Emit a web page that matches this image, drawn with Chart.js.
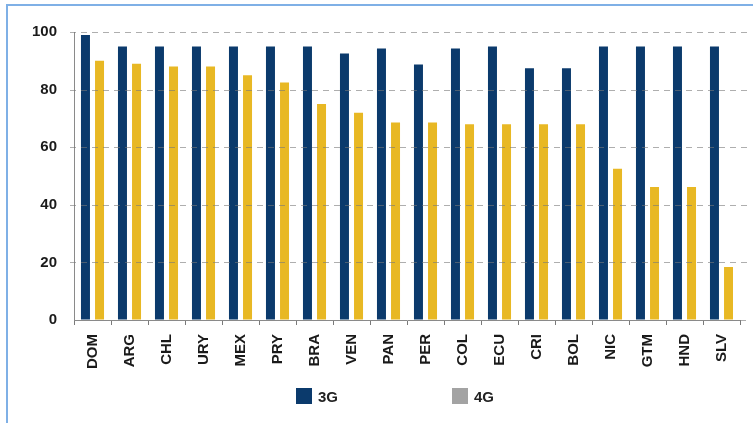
<!DOCTYPE html>
<html>
<head>
<meta charset="utf-8">
<script src="https://cdn.jsdelivr.net/npm/chart.js@4.4.1/dist/chart.umd.min.js"></script>
<style>
  html, body { margin: 0; padding: 0; background: #fff; }
  #wrap { position: relative; width: 753px; height: 423px; overflow: hidden; }
  #frame { position: absolute; left: 6px; top: 4px; width: 800px; height: 500px;
           border-left: 2px solid #7fb0e6; border-top: 2px solid #7fb0e6; }
  #chart { position: absolute; left: 0; top: 0; }
  .legend { position: absolute; top: 388px; font: bold 15px "Liberation Sans", Arial, sans-serif; color: #222; }
  .legend span { position: absolute; top: 0; white-space: nowrap; }
  .legend i { position: absolute; top: 0; width: 16px; height: 16px; }
</style>
</head>
<body>
<div id="wrap">
  <div id="frame"></div>
  <canvas id="chart" width="753" height="423"></canvas>
  <div class="legend" id="legend"></div>
</div>
<script>
// countries, in the order shown on the axis
const countries = ['DOM', 'ARG', 'CHL', 'URY', 'MEX', 'PRY', 'BRA', 'VEN', 'PAN', 'PER',
                   'COL', 'ECU', 'CRI', 'BOL', 'NIC', 'GTM', 'HND', 'SLV'];

// coverage, % of population
const cov3G = [99, 95, 95, 95, 95, 95, 95, 92.5, 94.3, 88.7, 94.3, 95, 87.4, 87.4, 95, 95, 95, 95];
const cov4G = [90, 89, 88, 88, 85, 82.5, 75, 72, 68.6, 68.6, 68, 68, 68, 68, 52.5, 46.2, 46.2, 18.4];

const yTicks = [0, 20, 40, 60, 80, 100];

// legend entries (the 4G swatch is grey in the legend)
const legendItems = [
  { label: '3G', color: '#0b3a6c', x: 296 },
  { label: '4G', color: '#a3a3a3', x: 452 }
];

const NAVY = '#0b3a6c';
const GOLD = '#e8b824';
const FONT = '"Liberation Sans", Arial, sans-serif';

// dashed guide lines drawn on top of the bars
const dashedGrid = {
  id: 'dashedGrid',
  afterDatasetsDraw(chart) {
    const { ctx, chartArea, scales } = chart;
    ctx.save();
    ctx.setLineDash([6, 5]);
    ctx.strokeStyle = 'rgba(120,120,120,0.6)';
    ctx.lineWidth = 1;
    yTicks.forEach(v => {
      const py = Math.round(scales.y.getPixelForValue(v)) + 0.5;
      ctx.beginPath();
      ctx.moveTo(v === 0 ? chartArea.right : chartArea.left - 4, py);
      ctx.lineTo(chartArea.right + 10, py);
      ctx.stroke();
    });
    ctx.restore();
  }
};

new Chart(document.getElementById('chart'), {
  type: 'bar',
  data: {
    labels: countries,
    datasets: [
      { label: '3G', data: cov3G, backgroundColor: NAVY },
      { label: '4G', data: cov4G, backgroundColor: GOLD }
    ]
  },
  options: {
    responsive: false,
    animation: false,
    layout: { padding: { top: 32, right: 13, bottom: 0, left: 0 } },
    datasets: { bar: { categoryPercentage: 0.76, barPercentage: 0.64 } },
    plugins: {
      legend: { display: false },
      tooltip: { enabled: false }
    },
    scales: {
      x: {
        afterFit: s => { s.height = 103; },
        grid: { offset: true, drawOnChartArea: false, drawTicks: true, tickLength: 5, color: '#7a7a7a' },
        border: { display: true, color: '#8a8a8a', width: 1 },
        ticks: {
          minRotation: 90, maxRotation: 90, padding: 9, autoSkip: false,
          color: '#1a1a1a', font: { family: FONT, size: 15, weight: 'bold' }
        }
      },
      y: {
        min: 0, max: 100,
        afterFit: s => { s.width = 74; },
        afterBuildTicks: s => { s.ticks = yTicks.map(v => ({ value: v })); },
        grid: { display: true, drawOnChartArea: false, drawTicks: false },
        border: { display: true, color: '#8a8a8a', width: 1 },
        ticks: {
          padding: 17, color: '#1a1a1a',
          font: { family: FONT, size: 15, weight: 'bold' }
        }
      }
    }
  },
  plugins: [dashedGrid]
});

const legend = document.getElementById('legend');
legendItems.forEach(item => {
  const sw = document.createElement('i');
  sw.style.left = item.x + 'px';
  sw.style.background = item.color;
  const tx = document.createElement('span');
  tx.style.left = (item.x + 22) + 'px';
  tx.textContent = item.label;
  legend.appendChild(sw);
  legend.appendChild(tx);
});
</script>
</body>
</html>
